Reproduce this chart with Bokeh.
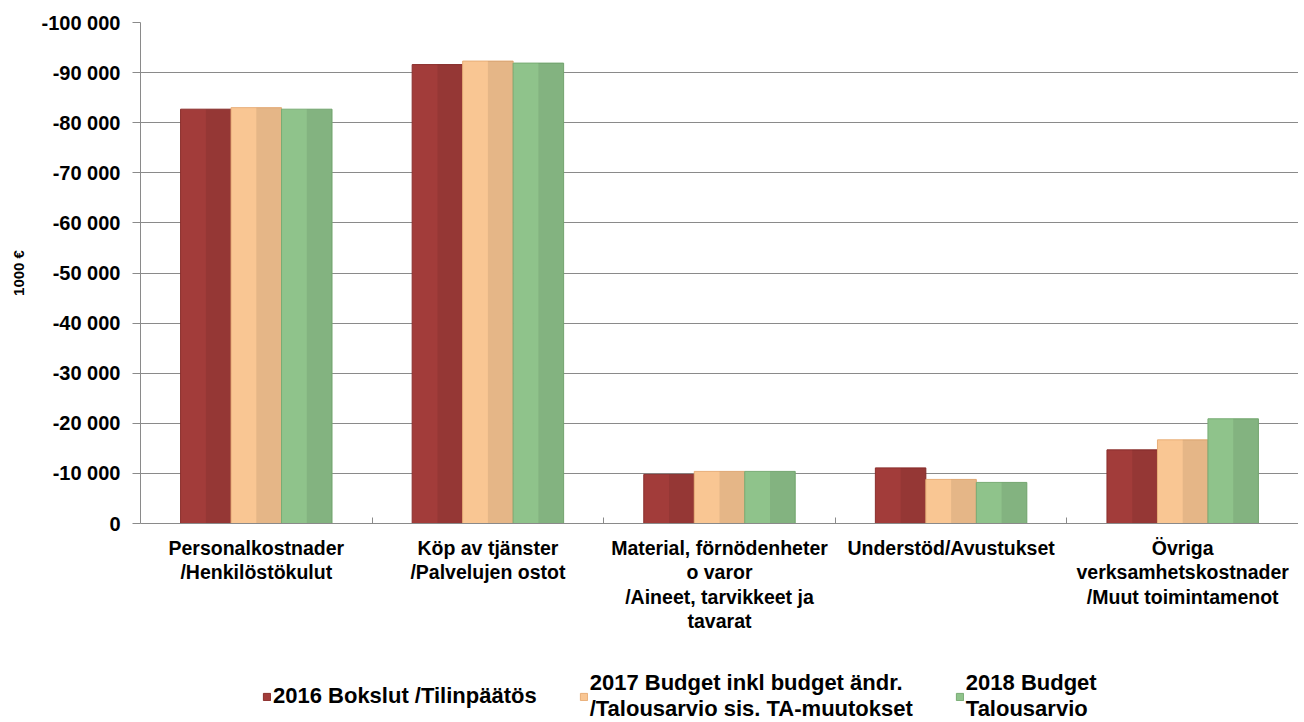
from bokeh.plotting import figure
from bokeh.layouts import column
from bokeh.models import (Range1d, FixedTicker, CustomJSTickFormatter, ColumnDataSource,
                          Legend, LegendItem)
from bokeh.embed import file_html
from bokeh.resources import INLINE

categories = [
    "Personalkostnader\n/Henkilöstökulut",
    "Köp av tjänster\n/Palvelujen ostot",
    "Material, förnödenheter\no varor\n/Aineet, tarvikkeet ja\ntavarat",
    "Understöd/Avustukset",
    "Övriga\nverksamhetskostnader\n/Muut toimintamenot",
]
series_names = [
    "2016 Bokslut /Tilinpäätös",
    "2017 Budget inkl budget ändr.\n/Talousarvio sis. TA-muutokset",
    "2018 Budget\nTalousarvio",
]
values_2016 = [-82700, -91600, -9800, -11100, -14700]
values_2017 = [-83000, -92300, -10400, -8800, -16700]
values_2018 = [-82700, -91900, -10400, -8200, -20900]
y_ticks = [0, -10000, -20000, -30000, -40000, -50000, -60000, -70000, -80000, -90000, -100000]
y_label = "1000 €"

colors = ["#A23C3A", "#F9C693", "#8FC38B"]
edge_colors = ["#8A2E2C", "#E8AE78", "#78AC74"]
series = [values_2016, values_2017, values_2018]

FONT = "Liberation Sans"
GRAY = "#8A8A8A"

p = figure(width=1298, height=662, output_backend="svg", toolbar_location=None,
           x_range=Range1d(-0.5, 4.5), y_range=Range1d(0, -100000),
           min_border_left=140, min_border_right=0, min_border_top=22, min_border_bottom=139)
p.outline_line_color = None
p.xgrid.grid_line_color = None
p.ygrid.grid_line_color = GRAY
p.ygrid.ticker = FixedTicker(ticks=y_ticks)

xs = list(range(len(categories)))
w = 0.218
offsets = [-w, 0.0, w]
sources = []
for vals, off, c, ec in zip(series, offsets, colors, edge_colors):
    src = ColumnDataSource(dict(x=[x + off for x in xs], top=vals,
                                xr=[x + off + w / 4 for x in xs]))
    sources.append(src)
    p.vbar(x="x", top="top", bottom=0, width=w, source=src,
           fill_color=c, line_color=ec, line_width=1)
    p.vbar(x="xr", top="top", bottom=0, width=w / 2, source=src,
           fill_color="black", fill_alpha=0.08, line_color=None)

# y axis
ya = p.yaxis[0]
ya.ticker = FixedTicker(ticks=y_ticks, minor_ticks=[])
ya.formatter = CustomJSTickFormatter(code="""
const s = Math.abs(tick).toFixed(0).replace(/\\B(?=(\\d{3})+(?!\\d))/g, " ");
return (tick < 0 ? "-" : "") + s;
""")
ya.major_label_text_font = FONT
ya.major_label_text_font_style = "bold"
ya.major_label_text_font_size = "20px"
ya.major_label_text_color = "black"
ya.major_tick_out = 8
ya.major_tick_in = 0
ya.major_tick_line_color = GRAY
ya.axis_line_color = GRAY
ya.major_label_standoff = 12
ya.axis_label = y_label
ya.axis_label_text_font = FONT
ya.axis_label_text_font_style = "bold"
ya.axis_label_text_font_size = "15px"
ya.axis_label_text_color = "black"
ya.axis_label_standoff = 12

# x axis
xa = p.xaxis[0]
xa.ticker = FixedTicker(ticks=xs, minor_ticks=[0.5, 1.5, 2.5, 3.5])
xa.major_label_overrides = {i: c for i, c in zip(xs, categories)}
xa.major_label_text_font = FONT
xa.major_label_text_font_style = "bold"
xa.major_label_text_font_size = "19.5px"
xa.major_label_text_color = "black"
xa.major_label_text_line_height = 1.12
xa.major_tick_in = 0
xa.major_tick_out = 0
xa.minor_tick_in = 6
xa.minor_tick_out = 0
xa.minor_tick_line_color = GRAY
xa.axis_line_color = GRAY
xa.major_label_standoff = 13

# legend in its own strip below the chart (same data, out of the strip's view)
lg = figure(width=1298, height=60, output_backend="svg", toolbar_location=None,
            x_axis_type=None, y_axis_type=None, x_range=Range1d(100, 101), y_range=Range1d(0, 1),
            min_border=0)
lg.outline_line_color = None
lg.xgrid.visible = False
lg.ygrid.visible = False
items = []
for name, src, c, ec in zip(series_names, sources, colors, edge_colors):
    r = lg.vbar(x="x", top="top", bottom=0, width=w, source=src, fill_color=c, line_color=ec)
    items.append(LegendItem(label=name, renderers=[r]))
legend = Legend(items=items, orientation="horizontal", location=(122, 0),
                label_text_font=FONT, label_text_font_style="bold",
                label_text_font_size="22px", label_text_color="black",
                label_text_line_height=0.93,
                glyph_width=9, glyph_height=9, spacing=42, label_standoff=2,
                border_line_color=None, background_fill_alpha=0, margin=0, padding=0)
lg.add_layout(legend, "center")

layout = column(p, lg, spacing=0)
open("out.html", "w").write(file_html(layout, INLINE))
